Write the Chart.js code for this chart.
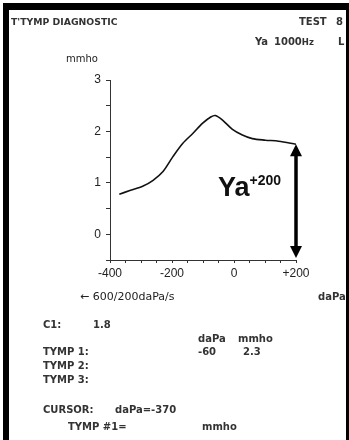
<!DOCTYPE html>
<html>
<head>
<meta charset="utf-8">
<script src="https://cdn.jsdelivr.net/npm/chart.js@4.4.1/dist/chart.umd.min.js"></script>
<style>
  html, body { margin: 0; padding: 0; background: #fff; }
  body { width: 349px; height: 440px; position: relative; overflow: hidden;
         font-family: "DejaVu Sans", sans-serif; color: #333; }
  .bar { position: absolute; background: #000; }
  #wrap { position: absolute; left: 0; top: 0; width: 349px; height: 440px; }
  .t { position: absolute; font-size: 10px; font-weight: bold; line-height: 10px; white-space: pre; }
  .r { font-family: "DejaVu Sans", sans-serif; font-weight: normal; color: #222; }
  #ya { position: absolute; left: 218px; top: 174px; font-family: "Liberation Sans", Arial, sans-serif;
        font-size: 27px; line-height: 27px; font-weight: bold; color: #111; white-space: nowrap; }
  #ya sup { font-size: 14px; vertical-align: 11px; line-height: 0; }
  .hz { font-size: 8.5px; }
</style>
</head>
<body>
<div class="bar" style="left:3px;top:3px;width:346px;height:7px"></div>
<div class="bar" style="left:3px;top:3px;width:6px;height:437px"></div>
<div class="bar" style="left:346px;top:3px;width:3px;height:437px"></div>

<div id="wrap"><canvas id="tympChart"></canvas></div>

<div class="t" style="left:11px;top:17px;font-size:9.3px">T'TYMP DIAGNOSTIC</div>
<div class="t" style="left:299px;top:17px">TEST</div>
<div class="t" style="left:336px;top:17px">8</div>
<div class="t" style="left:255px;top:37px">Ya</div>
<div class="t" style="left:274px;top:37px">1000<span class="hz">Hz</span></div>
<div class="t" style="left:338px;top:37px">L</div>
<div class="t r" style="left:66px;top:54px">mmho</div>
<div class="t r" style="left:80px;top:292px;font-size:11px">← 600/200daPa/s</div>
<div class="t" style="left:318px;top:292px">daPa</div>

<div class="t" style="left:43px;top:320px">C1:</div>
<div class="t" style="left:93px;top:320px">1.8</div>
<div class="t" style="left:198px;top:334px">daPa</div>
<div class="t" style="left:238px;top:334px">mmho</div>
<div class="t" style="left:43px;top:347px">TYMP 1:</div>
<div class="t" style="left:198px;top:347px">-60</div>
<div class="t" style="left:243px;top:347px">2.3</div>
<div class="t" style="left:43px;top:361px">TYMP 2:</div>
<div class="t" style="left:43px;top:375px">TYMP 3:</div>
<div class="t" style="left:43px;top:405px">CURSOR:</div>
<div class="t" style="left:115px;top:405px">daPa=-370</div>
<div class="t" style="left:68px;top:422px">TYMP #1=</div>
<div class="t" style="left:202px;top:422px">mmho</div>

<div id="ya">Ya<sup>+200</sup></div>

<script>
/* Tympanogram — pressure (daPa) vs admittance (mmho) */

const pressure   = [-370, -336, -293, -261, -229, -197, -165, -133, -101, -75, -60, -37, -5, 27, 59, 101, 144, 200];
const admittance = [0.78, 0.85, 0.94, 1.05, 1.22, 1.51, 1.77, 1.96, 2.16, 2.28, 2.31, 2.22, 2.04, 1.93, 1.86, 1.83, 1.81, 1.75];
const xLabels = { '-400': '-400', '-200': '-200', '0': '0', '200': '+200' };
const yLabels = ['0', '1', '2', '3'];

const AXIS = '#333';

/* ── ARROW: Ya at +200 down to the x axis ──────────────────── */
const yaArrow = {
  id: 'ya-arrow',
  afterDatasetsDraw(chart) {
    const { ctx, scales: { x, y } } = chart;
    const last = pressure.length - 1;
    const px = x.getPixelForValue(pressure[last]);
    const top = y.getPixelForValue(admittance[last]);
    const bot = y.getPixelForValue(y.min) - 2;
    const head = 12, half = 6;
    ctx.save();
    ctx.fillStyle = '#000';
    ctx.strokeStyle = '#000';
    ctx.lineWidth = 3.5;
    ctx.beginPath();
    ctx.moveTo(px, top + head - 1);
    ctx.lineTo(px, bot - head + 1);
    ctx.stroke();
    ctx.beginPath();
    ctx.moveTo(px, top);
    ctx.lineTo(px - half, top + head);
    ctx.lineTo(px + half, top + head);
    ctx.closePath();
    ctx.fill();
    ctx.beginPath();
    ctx.moveTo(px, bot);
    ctx.lineTo(px - half, bot - head);
    ctx.lineTo(px + half, bot - head);
    ctx.closePath();
    ctx.fill();
    ctx.restore();
  }
};

const ctx = document.getElementById('tympChart').getContext('2d');
new Chart(ctx, {
  type: 'line',
  data: {
    datasets: [{
      data: pressure.map((p, i) => ({ x: p, y: admittance[i] })),
      borderColor: '#111',
      borderWidth: 1.6,
      pointRadius: 0,
      tension: 0.3,
      fill: false
    }]
  },
  options: {
    responsive: true,
    maintainAspectRatio: false,
    animation: false,
    layout: { padding: { left: 0, top: 80, right: 53, bottom: 160 } },
    plugins: { legend: { display: false }, tooltip: { enabled: false } },
    scales: {
      x: {
        type: 'linear',
        min: -400,
        max: 200,
        afterFit: s => { s.height = 20; },
        border: { color: AXIS, width: 1 },
        grid: { drawOnChartArea: false, drawTicks: true, tickLength: 3, color: AXIS },
        ticks: {
          stepSize: 50,
          padding: 3,
          maxRotation: 0,
          autoSkip: false,
          color: '#222',
          font: { family: 'Liberation Sans', size: 12 },
          callback: v => xLabels[String(v)] || ''
        }
      },
      y: {
        min: -0.5,
        max: 3,
        afterFit: s => { s.width = 110; },
        border: { color: AXIS, width: 1 },
        grid: { drawOnChartArea: false, drawTicks: true, tickLength: 4, color: AXIS },
        ticks: {
          stepSize: 0.5,
          padding: 5,
          color: '#222',
          font: { family: 'Liberation Sans', size: 12 },
          callback: v => yLabels.includes(String(v)) ? String(v) : ''
        }
      }
    }
  },
  plugins: [yaArrow]
});
</script>
</body>
</html>
